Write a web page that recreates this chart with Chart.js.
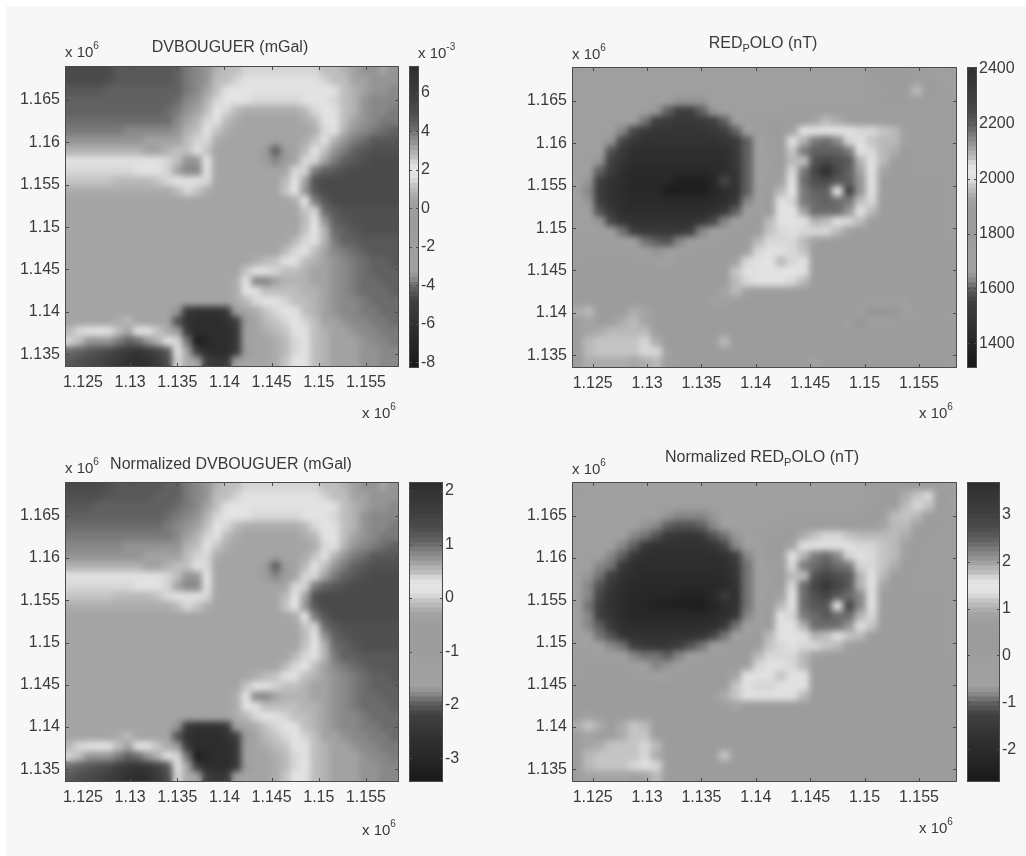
<!DOCTYPE html>
<html>
<head>
<meta charset="utf-8">
<title>DVBOUGUER / RED_POLO</title>
<script src="https://cdn.jsdelivr.net/npm/chart.js@4"></script>
<style>
  html, body { margin: 0; background: #fff; }
  #sheet { position: absolute; left: 6px; top: 6px; width: 1020px; height: 850px; background: #f7f7f7; }
  #page { position: absolute; left: 0; top: 0; width: 1026px; height: 856px; filter: blur(0.6px); }
  canvas { position: absolute; }
</style>
</head>
<body>
<div id="sheet"></div>
<div id="page"></div>
<script>
// cell centres, x 10^6
const gridX = [1.12362,1.12466,1.12570,1.12674,1.12778,1.12883,1.12987,1.13091,1.13195,1.13299,1.13403,1.13507,1.13612,1.13716,1.13820,1.13924,1.14028,1.14132,1.14236,1.14340,1.14445,1.14549,1.14653,1.14757,1.14861,1.14965,1.15069,1.15174,1.15278,1.15382,1.15486,1.15590,1.15694,1.15798];
const gridY = [1.16841,1.16722,1.16604,1.16486,1.16368,1.16249,1.16131,1.16013,1.15894,1.15776,1.15658,1.15539,1.15421,1.15303,1.15184,1.15066,1.14948,1.14829,1.14711,1.14593,1.14474,1.14356,1.14238,1.14120,1.14001,1.13883,1.13765,1.13646,1.13528,1.13409];

const xTicks = [1.125,1.13,1.135,1.14,1.145,1.15,1.155];
const yTicks = [1.135,1.14,1.145,1.15,1.155,1.16,1.165];
const xRange = [1.1231,1.1585];
const yRange = [1.1335,1.169];

// gray of the colour bar, bottom to top
const barGrays = [27,29,32,35,38,40,42,45,47,50,53,56,59,62,70,82,95,115,135,150,160,160,160,160,160,159,158,157,156,156,156,156,157,157,160,164,172,185,196,215,225,228,225,212,190,178,162,148,136,122,108,97,88,80,74,70,66,62,60,57,54,52,49,46];

const dvBarTicks = [-8,-6,-4,-2,0,2,4,6];
const redBarTicks = [1400,1600,1800,2000,2200,2400];
const dvNormBarTicks = [-3,-2,-1,0,1,2];
const redNormBarTicks = [-2,-1,0,1,2,3];

// DVBOUGUER, x 10^-3 mGal
const dvBouguer = [
[5.1,5.1,5.1,5.1,5.1,4.6,4.6,4.6,4.6,4.6,4.6,4.3,3.85,3.6,3.35,2.85,2.6,2.5,2.4,2.4,2.4,2.4,2.4,2.4,2.4,2.4,2.5,2.6,2.85,3.1,3.35,3.35,3.1,3.35],
[5.1,5.1,5.1,5.1,4.85,4.6,4.6,4.6,4.6,4.6,4.6,4.35,3.85,3.6,3.35,2.7,2.5,2.4,2.2,2.2,2.1,2.1,2.1,2.1,2.1,2.2,2.4,2.5,2.7,3,3.1,3.35,3.35,3.35],
[4.6,4.6,4.6,4.6,4.35,4.35,4.35,4.35,4.35,4.35,4.35,4.35,3.85,3.6,3.1,2.6,2.2,1.9,1.9,1.6,1.6,1.6,1.6,1.6,1.6,1.6,2,2.2,2.5,2.85,3.1,3.35,3.35,3.6],
[4.35,4.35,4.35,4.35,4.35,4.35,4.35,4.35,4.35,4.35,4.35,4.1,3.6,3.35,2.85,2.3,2,1.9,1.6,1.4,1.3,1.3,1.3,1.4,1.6,1.9,2.1,2.4,2.6,2.85,3.35,3.6,3.6,3.6],
[4.35,4.35,4.35,4.35,4.35,4.35,4.35,4.35,4.35,4.35,4.1,3.85,3.35,3.1,2.6,1.9,1.4,.9,.7,.65,.65,.65,.65,.7,.9,1.3,1.9,2.2,2.5,2.85,3.35,3.6,3.6,3.85],
[4.1,4.1,4.1,4.1,4.1,4.1,4.1,4.1,4.1,4.1,4.1,3.6,3.1,2.85,2.3,1.6,1,.65,.5,.5,.5,.5,.5,.5,.6,.9,1.6,2.1,2.6,3,3.35,3.6,3.85,3.85],
[3.85,3.85,3.85,3.85,3.85,3.85,3.6,3.6,3.6,3.6,3.6,3.35,2.85,2.6,1.9,1.15,.65,.4,.4,.4,.4,.4,.4,.4,.4,.65,1.4,2.2,2.85,3.35,3.6,3.85,4.1,4.35],
[3.35,3.35,3.35,3.35,3.35,3.35,3.35,3.35,3.1,3.1,3.1,3.1,2.6,2.3,1.4,.65,.4,.4,.4,.4,.4,.2,.4,.4,.65,1.15,2.1,2.85,3.35,3.85,4.1,4.6,4.6,4.6],
[2.85,2.85,2.85,2.85,2.85,2.85,2.85,2.85,3,3.1,2.85,2.6,2.5,2.1,1.2,.5,.4,.4,.4,.4,-1,-4.25,-1.3,.4,.9,1.9,2.6,3.35,3.85,4.35,4.6,4.85,4.85,4.85],
[2.2,2.2,2.2,2.2,2.1,2.1,2.1,2.1,2.2,2.2,2.4,2.6,3.35,3.35,1.9,.5,.4,.4,.4,.4,-.3,-3.8,-.3,.4,1.4,2.4,3.1,3.85,4.35,4.6,4.85,5.1,5.1,5.1],
[1.4,1.4,1.4,1.4,1.4,1.4,1.4,1.6,1.9,2.1,2.4,3.1,3.6,3.6,2.1,.5,.4,.4,.4,.4,.4,.4,.4,1.4,2.4,3.85,4.35,4.6,4.85,5.1,5.1,5.1,5.1,5.1],
[1.15,1.15,1.15,1.15,1.15,.9,.9,.9,1,1.15,1.4,1.9,2.2,2.2,1.4,.5,.4,.4,.4,.4,.4,.5,.9,1.9,3.1,4.85,5.1,5.1,5.1,5.1,5.1,5.1,5.1,5.1],
[.65,.65,.65,.65,.65,.65,.65,.6,.6,.6,.6,.9,1.4,1.15,.65,.4,.4,.4,.4,.4,.4,.5,1.15,1.9,3.35,4.6,5.1,5.1,5.1,5.1,5.1,5.1,5.1,5.1],
[.5,.5,.5,.5,.5,.5,.5,.4,.4,.4,.4,.4,.4,.4,.4,.4,.4,.4,.4,.4,.4,.4,.4,.65,1.9,3.85,4.6,5.1,5.1,5.1,5.1,5.1,5.1,5.1],
[.4,.4,.4,.4,.4,.4,.4,.4,.4,.4,.4,.4,.4,.4,.4,.4,.4,.4,.4,.4,.4,.4,.4,.4,1.15,2.4,4.1,4.6,4.85,4.85,4.85,4.85,4.85,4.85],
[.4,.4,.4,.4,.4,.4,.4,.4,.4,.4,.4,.4,.4,.4,.4,.4,.4,.4,.4,.4,.4,.4,.4,.4,.9,1.9,3.35,4.35,4.6,4.85,4.85,4.85,4.85,4.85],
[.4,.4,.4,.4,.4,.4,.4,.4,.4,.4,.4,.4,.4,.4,.4,.4,.4,.4,.4,.4,.4,.4,.4,.4,1.15,1.9,2.85,4.1,4.35,4.6,4.85,4.85,4.85,4.85],
[.4,.4,.4,.4,.4,.4,.4,.4,.4,.4,.4,.4,.4,.4,.4,.4,.4,.4,.4,.4,.4,.4,.4,.9,1.4,2.2,2.85,3.85,4.35,4.35,4.6,4.6,4.6,4.6],
[.4,.4,.4,.4,.4,.4,.4,.4,.4,.4,.4,.4,.4,.4,.4,.4,.4,.4,.4,.4,.4,.4,.9,1.4,2,2.6,3.1,3.6,3.85,4.1,4.35,4.6,4.6,4.6],
[.4,.4,.4,.4,.4,.4,.4,.4,.4,.4,.4,.4,.4,.4,.4,.4,.4,.4,.4,.65,.9,1.15,1.6,2.1,2.6,2.85,3.1,3.35,3.6,3.85,4.1,4.35,4.35,4.6],
[.4,.4,.4,.4,.4,.4,.4,.4,.4,.4,.4,.4,.4,.4,.4,.4,.4,.5,1.15,1.9,2.1,2.4,2.5,2.6,2.85,3,3.1,3.35,3.6,3.85,4.1,4.35,4.35,4.35],
[.4,.4,.4,.4,.4,.4,.4,.4,.4,.4,.4,.4,.4,.4,.4,.4,.4,.7,1.9,3.6,3.6,3.1,2.85,2.85,2.85,3,3.1,3.35,3.6,3.85,4.1,4.1,4.35,4.35],
[.4,.4,.4,.4,.4,.4,.4,.4,.4,.4,.4,.4,.4,.4,.4,.4,.4,.7,1.6,2.1,2.6,2.6,2.7,2.7,2.85,2.85,3.1,3.35,3.6,3.85,4.1,4.1,4.1,4.35],
[.4,.4,.4,.4,.4,.4,.4,.4,.4,.4,.4,.4,.4,.4,.4,.4,.5,.65,.9,1.4,1.9,2.1,2.4,2.6,2.7,2.85,3.1,3.35,3.6,3.6,3.85,4.1,4.1,4.1],
[.4,.4,.4,.4,.4,.4,.4,.4,.4,.4,.4,-3.5,-5.5,-6,-6,-6,-5.5,-3,.4,.65,1.15,1.5,1.9,2.2,2.5,2.85,3.1,3.35,3.6,3.6,3.85,3.85,4.1,4.1],
[.5,.5,.5,.5,.5,.65,1,.4,.4,.4,.4,-4.5,-6,-6.5,-6.5,-6.5,-6,-5,-1,.5,.9,1.2,1.4,1.9,2.4,2.7,3,3.1,3.35,3.6,3.6,3.85,3.85,4.1],
[1,1.4,1.6,1.9,2.2,2.6,3.1,2.2,1.6,1.15,.7,-.3,-5.5,-6.5,-6.5,-6.5,-6.5,-5.5,-2,.4,.65,.9,1.15,1.6,2.2,2.6,2.85,3,3.1,3.35,3.6,3.6,3.85,3.85],
[2.4,2.6,3.35,3.35,3.35,3.85,4.35,4.1,3.35,2.85,2.2,1.4,-4,-7.9,-7,-6.5,-6.5,-5.5,-2.5,.4,.5,.65,1,1.5,2.1,2.5,2.85,3,3.1,3.1,3.35,3.6,3.6,3.85],
[4.1,4.35,4.6,4.85,5.1,5.8,6.3,6.8,6.3,5.6,4.6,2.2,.4,-5,-6.5,-6.5,-6.5,-5.5,-1,.4,.5,.65,1,1.5,2,2.6,2.85,3,3.1,3.1,3.35,3.35,3.6,3.6],
[4.6,4.85,5.1,5.3,5.8,6.3,7,7.2,7,6,5.1,2.4,.6,.4,-5,-5.5,-5.5,-3,.4,.4,.5,.65,1.15,1.9,2.1,2.6,2.85,3,3.1,3.1,3.35,3.35,3.6,3.6]
];

// RED_POLO, nT
const redPolo = [
[1750,1750,1750,1750,1750,1750,1750,1750,1750,1750,1750,1750,1750,1750,1750,1750,1750,1750,1750,1750,1750,1750,1750,1750,1750,1750,1800,1800,1800,1780,1760,1750,1750,1750],
[1750,1750,1750,1750,1750,1750,1750,1750,1750,1750,1750,1750,1750,1750,1750,1750,1750,1750,1750,1750,1750,1750,1750,1750,1750,1750,1760,1800,1790,1850,1900,1800,1750,1750],
[1750,1750,1750,1750,1750,1750,1750,1750,1750,1750,1750,1750,1750,1750,1750,1750,1750,1750,1750,1750,1750,1750,1750,1750,1750,1750,1760,1770,1780,1850,1953,1850,1760,1750],
[1750,1750,1750,1750,1750,1750,1750,1750,1680,1640,1640,1640,1680,1750,1750,1750,1750,1750,1750,1750,1750,1750,1750,1750,1750,1750,1760,1780,1780,1780,1780,1780,1760,1750],
[1750,1750,1750,1750,1750,1750,1680,1640,1600,1540,1540,1600,1640,1700,1750,1750,1750,1750,1750,1770,1770,1770,1770,1770,1770,1770,1770,1770,1770,1770,1770,1770,1770,1770],
[1750,1750,1750,1750,1750,1660,1610,1540,1520,1510,1510,1520,1540,1600,1660,1750,1780,1780,1780,1780,1850,1920,1950,1930,1900,1880,1860,1840,1800,1780,1760,1760,1760,1760],
[1750,1750,1750,1700,1620,1560,1510,1490,1490,1490,1490,1490,1510,1540,1600,1680,1750,1780,1800,1900,2000,2030,2040,2020,2000,1990,1980,1970,1950,1900,1780,1760,1760,1760],
[1750,1750,1750,1640,1560,1500,1470,1470,1470,1470,1470,1470,1470,1490,1530,1600,1700,1770,1800,2000,2090,2160,2180,2140,2060,2000,1970,1960,1950,1900,1780,1770,1770,1770],
[1750,1750,1680,1580,1500,1460,1460,1460,1460,1460,1460,1460,1460,1460,1510,1590,1670,1760,1800,1970,2150,2190,2200,2190,2150,2040,1980,1960,1930,1850,1770,1770,1770,1770],
[1740,1740,1640,1540,1490,1430,1430,1430,1430,1430,1430,1430,1430,1440,1500,1590,1660,1750,1830,1950,2070,2220,2260,2230,2210,2090,2000,1950,1880,1800,1770,1770,1770,1770],
[1750,1690,1600,1520,1460,1420,1420,1420,1420,1400,1400,1400,1420,1440,1490,1590,1660,1750,1850,1980,2160,2260,2390,2250,2200,2100,2000,1920,1850,1780,1770,1770,1770,1770],
[1720,1640,1540,1480,1440,1400,1400,1400,1400,1360,1360,1360,1400,1560,1470,1590,1680,1770,1900,2010,2170,2220,2250,2210,2190,2130,2000,1880,1800,1780,1780,1780,1780,1780],
[1720,1630,1530,1470,1430,1400,1400,1400,1340,1340,1340,1330,1380,1430,1480,1600,1700,1780,1950,2020,2160,2190,2200,2022,2270,2130,2000,1880,1800,1780,1780,1780,1780,1780],
[1720,1640,1540,1480,1440,1420,1420,1420,1420,1420,1420,1420,1420,1460,1510,1620,1720,1800,2000,2060,2150,2180,2190,2180,2160,2080,1990,1860,1790,1780,1780,1780,1780,1780],
[1740,1670,1580,1500,1450,1440,1440,1440,1440,1440,1440,1440,1470,1510,1590,1680,1760,1850,2000,2020,2100,2170,2180,2170,2120,2020,1960,1830,1780,1780,1780,1780,1780,1780],
[1750,1720,1640,1560,1490,1470,1470,1470,1470,1470,1470,1500,1560,1630,1710,1770,1820,1950,2010,2000,2030,2090,2080,2040,1990,1960,1880,1800,1780,1780,1780,1780,1780,1780],
[1750,1750,1720,1680,1610,1540,1500,1500,1500,1500,1540,1620,1690,1750,1780,1800,1880,1970,1990,2000,1990,1990,1980,1960,1900,1840,1800,1780,1780,1780,1780,1780,1780,1780],
[1760,1760,1760,1760,1720,1670,1610,1590,1580,1620,1700,1760,1770,1780,1790,1840,1950,1980,1990,1990,1960,1900,1850,1810,1780,1780,1780,1780,1780,1780,1780,1780,1780,1780],
[1770,1770,1770,1770,1770,1770,1700,1640,1680,1750,1770,1780,1790,1790,1800,1900,1980,2000,2000,1990,1970,1850,1790,1790,1790,1790,1790,1790,1790,1790,1790,1790,1790,1790],
[1780,1780,1780,1780,1780,1780,1780,1690,1680,1790,1790,1790,1790,1790,1900,1990,2010,2020,1950,1990,2000,1880,1800,1800,1800,1800,1800,1800,1800,1800,1800,1800,1800,1800],
[1790,1790,1790,1790,1790,1790,1790,1790,1790,1790,1790,1790,1790,1850,1970,2010,2030,2030,2020,2020,2000,1860,1800,1800,1800,1800,1800,1800,1800,1800,1800,1800,1800,1800],
[1800,1800,1800,1800,1800,1800,1800,1800,1800,1800,1800,1800,1820,1880,1960,1990,2010,2000,2010,1990,1950,1810,1800,1800,1800,1800,1800,1800,1800,1800,1800,1800,1800,1800],
[1810,1810,1810,1810,1810,1810,1810,1810,1810,1810,1810,1810,1860,1920,1950,1900,1860,1830,1780,1800,1800,1800,1800,1800,1800,1800,1800,1800,1800,1800,1800,1800,1800,1800],
[1830,1830,1830,1830,1820,1820,1820,1820,1820,1820,1820,1820,1900,1900,1880,1820,1790,1790,1790,1790,1790,1790,1790,1790,1790,1790,1700,1700,1700,1700,1790,1790,1790,1790],
[1930,1960,1890,1830,1870,1930,1910,1840,1790,1790,1790,1790,1790,1790,1790,1790,1790,1790,1790,1790,1790,1790,1790,1790,1790,1680,1640,1640,1650,1700,1780,1780,1780,1780],
[1880,1910,1870,1870,1930,1950,1920,1830,1790,1790,1790,1790,1790,1790,1790,1790,1790,1790,1790,1790,1790,1790,1790,1790,1700,1650,1660,1720,1780,1780,1780,1780,1780,1780],
[1880,1910,1930,1950,1950,1950,1960,1880,1800,1790,1790,1790,1790,1790,1790,1790,1790,1790,1790,1790,1790,1790,1790,1790,1790,1790,1790,1790,1790,1790,1790,1790,1790,1790],
[1870,1960,1970,1970,1970,1970,1990,1930,1850,1790,1790,1790,1790,1960,1800,1790,1790,1790,1790,1790,1790,1790,1790,1790,1790,1790,1790,1790,1790,1790,1790,1790,1790,1790],
[1880,1960,1970,1970,1970,1970,1990,1980,1900,1800,1790,1790,1790,1790,1790,1790,1790,1790,1790,1790,1790,1790,1790,1790,1790,1790,1790,1790,1790,1790,1790,1790,1790,1790],
[1880,1930,1930,1930,1930,1910,1930,1950,1880,1800,1790,1790,1790,1790,1790,1790,1790,1790,1790,1790,1790,1700,1790,1790,1790,1790,1790,1790,1790,1790,1790,1790,1790,1790]
];

// Normalized DVBOUGUER
const dvNorm = [
[1.35,1.35,1.35,1.35,1.26,1.17,1.17,1.17,1.17,1.17,1.08,1.06,.9,.81,.72,.54,.45,.42,.38,.38,.38,.38,.38,.38,.38,.38,.42,.45,.54,.63,.72,.72,.63,.72],
[1.26,1.26,1.26,1.26,1.17,1.17,1.17,1.17,1.17,1.08,1.08,1.08,.9,.81,.72,.49,.42,.38,.31,.31,.28,.28,.28,.28,.28,.31,.38,.42,.49,.6,.63,.72,.72,.72],
[1.17,1.17,1.17,1.08,1.08,1.08,1.08,1.08,1.08,1.08,1.08,.99,.9,.81,.63,.45,.31,.2,.2,.1,.1,.1,.1,.1,.1,.1,.24,.31,.42,.54,.63,.72,.72,.81],
[1.08,1.08,1.08,1.08,1.08,1.08,1.08,1.08,1.08,1.08,.99,.9,.81,.72,.54,.35,.24,.2,.1,.03,0,0,0,.03,.1,.2,.28,.38,.45,.54,.72,.81,.81,.81],
[.99,.99,.99,.99,.99,.99,.99,.99,.99,.99,.9,.81,.72,.63,.45,.2,.03,-.15,-.22,-.24,-.24,-.24,-.24,-.22,-.15,0,.2,.31,.42,.54,.72,.81,.81,.9],
[.9,.9,.9,.9,.9,.9,.9,.9,.9,.9,.9,.81,.63,.54,.35,.1,-.12,-.24,-.3,-.3,-.3,-.3,-.3,-.3,-.26,-.15,.1,.28,.45,.6,.72,.81,.9,.9],
[.81,.81,.81,.81,.81,.81,.72,.72,.72,.72,.72,.72,.54,.45,.2,-.06,-.24,-.33,-.33,-.33,-.33,-.33,-.33,-.33,-.33,-.24,.03,.31,.54,.72,.81,.9,.99,1.08],
[.72,.72,.72,.72,.72,.72,.72,.72,.63,.63,.63,.63,.45,.35,.03,-.24,-.33,-.33,-.33,-.33,-.33,-.4,-.33,-.33,-.24,-.06,.28,.54,.72,.9,.99,1.17,1.17,1.17],
[.54,.54,.54,.54,.54,.54,.54,.54,.6,.63,.54,.45,.42,.28,0,-.3,-.33,-.33,-.33,-.33,-.83,-2,-.95,-.33,-.15,.2,.45,.72,.9,1.08,1.17,1.26,1.26,1.26],
[.31,.31,.31,.31,.28,.28,.28,.28,.31,.31,.38,.45,.72,.72,.2,-.3,-.33,-.33,-.33,-.33,-.58,-1.83,-.58,-.33,.03,.38,.63,.9,1.08,1.17,1.26,1.35,1.35,1.35],
[.03,.03,.03,.03,.03,.03,.03,.1,.2,.28,.38,.63,.81,.81,.28,-.3,-.33,-.33,-.33,-.33,-.33,-.33,-.33,.03,.38,.9,1.08,1.17,1.26,1.35,1.35,1.35,1.35,1.35],
[-.06,-.06,-.06,-.06,-.06,-.15,-.15,-.15,-.12,-.06,.03,.2,.31,.31,.03,-.3,-.33,-.33,-.33,-.33,-.33,-.3,-.15,.2,.63,1.26,1.35,1.35,1.35,1.35,1.35,1.35,1.35,1.35],
[-.24,-.24,-.24,-.24,-.24,-.24,-.24,-.26,-.26,-.26,-.26,-.15,.03,-.06,-.24,-.33,-.33,-.33,-.33,-.33,-.33,-.3,-.06,.2,.72,1.17,1.35,1.35,1.35,1.35,1.35,1.35,1.35,1.35],
[-.3,-.3,-.3,-.3,-.3,-.3,-.3,-.33,-.33,-.33,-.33,-.33,-.33,-.33,-.33,-.33,-.33,-.33,-.33,-.33,-.33,-.33,-.33,-.24,.2,.9,1.17,1.35,1.35,1.35,1.35,1.35,1.35,1.35],
[-.33,-.33,-.33,-.33,-.33,-.33,-.33,-.33,-.33,-.33,-.33,-.33,-.33,-.33,-.33,-.33,-.33,-.33,-.33,-.33,-.33,-.33,-.33,-.33,-.06,.38,.99,1.17,1.26,1.26,1.26,1.26,1.26,1.26],
[-.33,-.33,-.33,-.33,-.33,-.33,-.33,-.33,-.33,-.33,-.33,-.33,-.33,-.33,-.33,-.33,-.33,-.33,-.33,-.33,-.33,-.33,-.33,-.33,-.15,.2,.72,1.08,1.17,1.26,1.26,1.26,1.26,1.26],
[-.33,-.33,-.33,-.33,-.33,-.33,-.33,-.33,-.33,-.33,-.33,-.33,-.33,-.33,-.33,-.33,-.33,-.33,-.33,-.33,-.33,-.33,-.33,-.33,-.06,.2,.54,.99,1.08,1.17,1.26,1.26,1.26,1.26],
[-.33,-.33,-.33,-.33,-.33,-.33,-.33,-.33,-.33,-.33,-.33,-.33,-.33,-.33,-.33,-.33,-.33,-.33,-.33,-.33,-.33,-.33,-.33,-.15,.03,.31,.54,.9,1.08,1.08,1.17,1.17,1.17,1.17],
[-.33,-.33,-.33,-.33,-.33,-.33,-.33,-.33,-.33,-.33,-.33,-.33,-.33,-.33,-.33,-.33,-.33,-.33,-.33,-.33,-.33,-.33,-.15,.03,.24,.45,.63,.81,.9,.99,1.08,1.17,1.17,1.17],
[-.33,-.33,-.33,-.33,-.33,-.33,-.33,-.33,-.33,-.33,-.33,-.33,-.33,-.33,-.33,-.33,-.33,-.33,-.33,-.24,-.15,-.06,.1,.28,.45,.54,.63,.72,.81,.9,.99,1.08,1.08,1.17],
[-.33,-.33,-.33,-.33,-.33,-.33,-.33,-.33,-.33,-.33,-.33,-.33,-.33,-.33,-.33,-.33,-.33,-.3,-.06,.2,.28,.38,.42,.45,.54,.6,.63,.72,.81,.9,.99,1.08,1.08,1.08],
[-.33,-.33,-.33,-.33,-.33,-.33,-.33,-.33,-.33,-.33,-.33,-.33,-.33,-.33,-.33,-.33,-.33,-.22,.2,.81,.81,.63,.54,.54,.54,.6,.63,.72,.81,.9,.99,.99,1.08,1.08],
[-.33,-.33,-.33,-.33,-.33,-.33,-.33,-.33,-.33,-.33,-.33,-.33,-.33,-.33,-.33,-.33,-.33,-.22,.1,.28,.45,.45,.49,.49,.54,.54,.63,.72,.81,.9,.99,.99,.99,1.08],
[-.33,-.33,-.33,-.33,-.33,-.33,-.33,-.33,-.33,-.33,-.33,-.33,-.33,-.33,-.33,-.33,-.3,-.24,-.15,.03,.2,.28,.38,.45,.49,.54,.63,.72,.81,.81,.9,.99,.99,.99],
[-.33,-.33,-.33,-.33,-.33,-.33,-.33,-.33,-.33,-.33,-.33,-1.73,-2.44,-2.62,-2.62,-2.62,-2.44,-1.55,-.33,-.24,-.06,.06,.2,.31,.42,.54,.63,.72,.81,.81,.9,.9,.99,.99],
[-.3,-.3,-.3,-.3,-.3,-.24,-.12,-.33,-.33,-.33,-.33,-2.08,-2.62,-2.8,-2.8,-2.8,-2.62,-2.26,-.83,-.3,-.15,-.05,.03,.2,.38,.49,.6,.63,.72,.81,.81,.9,.9,.99],
[-.12,.03,.1,.2,.31,.45,.63,.31,.1,-.06,-.22,-.58,-2.44,-2.8,-2.8,-2.8,-2.8,-2.44,-1.2,-.33,-.24,-.15,-.06,.1,.31,.45,.54,.6,.63,.72,.81,.81,.9,.9],
[.38,.45,.72,.72,.72,.9,1.08,.99,.72,.54,.31,.03,-1.9,-3.3,-2.98,-2.8,-2.8,-2.44,-1.37,-.33,-.3,-.24,-.12,.06,.28,.42,.54,.6,.63,.63,.72,.81,.81,.9],
[.99,1.08,1.17,1.26,1.35,1.6,1.77,1.95,1.77,1.5,1.17,.31,-.33,-2.26,-2.8,-2.8,-2.8,-2.44,-.83,-.33,-.3,-.24,-.12,.06,.24,.45,.54,.6,.63,.63,.72,.72,.81,.81],
[1.17,1.26,1.35,1.4,1.6,1.77,2.03,2.1,2.03,1.67,1.35,.38,-.26,-.33,-2.26,-2.44,-2.44,-1.55,-.33,-.33,-.3,-.24,-.06,.2,.28,.45,.54,.6,.63,.63,.72,.72,.81,.81]
];

// Normalized RED_POLO
const redNorm = [
[-.2,-.2,-.2,-.2,-.2,-.2,-.2,-.2,-.2,-.2,-.2,-.2,-.2,-.2,-.2,-.2,-.2,-.2,-.2,-.2,-.2,-.2,-.2,-.2,-.2,-.2,0,.1,.1,.1,.2,.1,-.1,-.2],
[-.2,-.2,-.2,-.2,-.2,-.2,-.2,-.2,-.2,-.2,-.2,-.2,-.2,-.2,-.2,-.2,-.2,-.2,-.2,-.2,-.2,-.2,-.2,-.2,-.2,-.2,-.1,.1,.3,.9,1.1,1.2,.3,-.2],
[-.2,-.2,-.2,-.2,-.2,-.2,-.2,-.2,-.2,-.2,-.2,-.2,-.2,-.2,-.2,-.2,-.2,-.2,-.2,-.2,-.2,-.2,-.2,-.2,-.2,-.2,-.1,.1,.6,1,1.2,1.1,.2,-.2],
[-.2,-.2,-.2,-.2,-.2,-.2,-.3,-.6,-.8,-.9,-.9,-.9,-.8,-.5,-.2,-.2,-.2,-.2,-.2,-.2,-.2,-.2,-.2,-.2,-.2,-.1,.1,.5,1,1.1,1,.5,0,-.2],
[-.2,-.2,-.2,-.2,-.3,-.6,-.8,-.9,-1.1,-1.2,-1.2,-1.1,-.9,-.7,-.4,-.2,-.2,-.2,-.1,0,.1,.2,.3,.3,.3,.3,.4,.8,1,1,.7,.2,0,-.1],
[-.2,-.2,-.2,-.4,-.7,-.9,-1,-1.2,-1.6,-1.7,-1.7,-1.6,-1.2,-1,-.8,-.4,-.1,0,0,.3,.9,1.1,1.2,1.2,1.1,1,1,1,1,.9,.4,0,-.1,-.1],
[-.2,-.2,-.3,-.7,-.9,-1.1,-1.6,-1.8,-1.8,-1.8,-1.8,-1.8,-1.7,-1.3,-.9,-.7,-.3,0,.2,.8,1.3,1.4,1.5,1.4,1.3,1.2,1.2,1.1,1,.7,.2,-.1,-.1,-.1],
[-.2,-.2,-.7,-.9,-1.1,-1.6,-1.9,-1.9,-1.9,-1.9,-1.9,-1.9,-1.9,-1.8,-1.4,-.9,-.5,0,.3,1.3,1.8,2.2,2.3,2.1,1.6,1.3,1.2,1.1,1,.7,.1,-.1,-.1,-.1],
[-.3,-.6,-.9,-1,-1.6,-1.9,-2,-2,-2,-2,-2,-2,-2,-1.9,-1.6,-1,-.6,-.1,.2,1.2,2.2,2.4,2.5,2.4,2.2,1.6,1.2,1.1,.9,.4,0,-.1,-.1,-.1],
[-.4,-.8,-1,-1.4,-1.8,-2,-2.1,-2.1,-2.1,-2.1,-2.1,-2.1,-2.1,-2,-1.7,-1,-.6,-.2,.3,1,1.7,2.6,2.8,2.6,2.5,1.9,1.3,1,.6,.1,-.1,-.1,-.1,-.1],
[-.5,-.9,-1.2,-1.6,-1.9,-2.1,-2.2,-2.2,-2.2,-2.2,-2.2,-2.2,-2.2,-2.1,-1.8,-1,-.6,-.2,.4,1.2,2.3,2.8,3.4,2.8,2.5,1.9,1.3,.8,.4,0,-.1,-.1,-.1,-.1],
[-.6,-.9,-1.3,-1.8,-2,-2.2,-2.2,-2.3,-2.3,-2.4,-2.4,-2.4,-2.2,-1.5,-1.9,-1,-.6,-.1,.7,1.3,2.3,2.6,2.8,2.5,2.4,2.1,1.3,.6,.2,.4,.1,0,0,0],
[-.6,-1,-1.4,-1.8,-2,-2.2,-2.3,-2.4,-2.5,-2.5,-2.5,-2.6,-2.3,-2,-1.8,-1,-.5,0,1,1.4,2.3,2.5,2.5,1.5,2.8,2.1,1.3,.6,.3,0,0,0,0,0],
[-.6,-.9,-1.4,-1.7,-2,-2.2,-2.2,-2.2,-2.2,-2.2,-2.2,-2.2,-2.1,-1.9,-1.6,-.9,-.4,.1,1.3,1.6,2.2,2.4,2.5,2.4,2.3,1.8,1.2,.5,.1,0,0,0,0,0],
[-.5,-.9,-1.1,-1.6,-1.9,-2,-2,-2,-2,-2,-2,-2,-1.9,-1.6,-1,-.6,-.2,.3,1.3,1.5,1.9,2.3,2.4,2.3,2,1.5,1.1,.3,0,0,0,0,0,0],
[-.4,-.7,-1,-1.2,-1.7,-1.8,-1.8,-1.8,-1.8,-1.8,-1.8,-1.7,-1.3,-1,-.5,-.1,.2,1,1.3,1.3,1.4,1.8,1.7,1.4,1.1,1,.5,.1,0,0,0,0,0,0],
[-.2,-.3,-.6,-.9,-1,-1.4,-1.6,-1.7,-1.6,-1.4,-1.2,-1,-.6,-.2,0,.2,.6,1.1,1.2,1.3,1.2,1.2,1.1,1,.7,.4,.1,0,0,0,0,0,0,0],
[-.1,-.1,-.2,-.5,-.7,-.9,-1,-1,-1.1,-.9,-.5,-.1,0,0,.1,.4,1,1.2,1.2,1.2,1,.7,.4,.1,0,0,0,0,0,0,0,0,0,0],
[0,0,0,0,0,-.2,-.6,-.9,-.8,-.2,0,0,.1,.1,.2,.7,1.2,1.4,1.3,1.2,1,.4,.1,.1,.1,.1,.1,.1,.1,.1,.1,.1,.1,.1],
[0,0,0,0,0,0,0,-.5,-.7,.1,.1,.1,.1,.1,.8,1.3,1.4,1.4,1.1,1.3,1.3,.6,.1,.1,.1,.1,.1,.1,.1,.1,.1,.1,.1,.1],
[.1,.1,.1,.1,.1,.1,.1,.1,.1,.1,.1,.1,.1,.4,1.1,1.4,1.6,1.6,1.5,1.5,1.3,.5,.1,.1,.1,.1,.1,.1,.1,.1,.1,.1,.1,.1],
[.1,.1,.1,.1,.1,.1,.1,.1,.1,.1,.2,.3,.5,.9,1.1,1.3,1.4,1.3,1.4,1.3,1,.2,.1,.1,.1,.1,.1,.1,.1,.1,.1,.1,.1,.1],
[.2,.2,.2,.2,.2,.2,.2,.2,.2,.2,.3,.4,.5,.6,.8,.6,.3,.2,.1,.1,.1,.1,.1,.1,.1,.1,.1,.1,.1,.1,.1,.1,.1,.1],
[.4,.7,.6,.4,.4,.5,.5,.4,.2,.3,.4,.5,.4,.2,.2,.1,.1,.1,.1,.1,.1,.1,.1,.1,.1,.1,.1,.1,.1,.1,.1,.1,.1,.1],
[.9,1.1,.9,.4,.9,1.1,1,.4,.2,.3,.5,.5,.3,.1,.1,.1,.1,.1,.1,.1,.1,.1,.1,.1,.1,.1,.1,.1,.1,.1,.1,.1,.1,.1],
[.6,.8,.6,.6,.9,1.1,1.1,.6,.2,.2,.4,.4,.2,.1,.1,.1,.1,.1,.1,.1,.1,.1,.1,.1,.1,.1,.1,.1,.1,.1,.1,.1,.1,.1],
[.6,.8,.9,1.1,1.1,1.1,1.2,1,.3,.2,.2,.3,.3,.2,.1,.1,.1,.1,.1,.1,.1,.1,.1,.1,.1,.1,.1,.1,.1,.1,.1,.1,.1,.1],
[.5,1,1.1,1.1,1.1,1.1,1.2,.9,.4,.1,.1,.2,.2,1.1,.2,.1,.1,.1,.1,.1,.1,.1,.1,.1,.1,.1,.1,.1,.1,.1,.1,.1,.1,.1],
[.6,1,1.1,1.1,1.1,1.2,1.3,1.2,.6,.2,.1,.1,.1,.1,.1,.1,.1,.1,.1,.1,.1,.1,.1,.1,.1,.1,.1,.1,.1,.1,.1,.1,.1,.1],
[.6,.8,.8,.8,.8,.7,.8,1,.6,.2,.1,.1,.1,.1,.1,.1,.1,.1,.1,.1,.1,.1,.1,.1,.1,.1,.1,.1,.1,.1,.1,.1,.1,.1]
];

const textColor = '#3a3a3a';
const fontName = '"Liberation Sans"';

function grayOf(v, range) {
    let k = Math.floor((v - range[0]) / (range[1] - range[0]) * barGrays.length);
    k = Math.max(0, Math.min(barGrays.length - 1, k));
    const g = barGrays[k];
    return 'rgb(' + g + ',' + g + ',' + g + ')';
}

function addCanvas(left, top, width, height) {
    const c = document.createElement('canvas');
    c.width = width;
    c.height = height;
    c.style.left = left + 'px';
    c.style.top = top + 'px';
    c.style.width = width + 'px';
    c.style.height = height + 'px';
    document.getElementById('page').appendChild(c);
    return c;
}

// text runs: [string, dy, size]
function drawRuns(ctx, x, y, runs, center) {
    ctx.save();
    ctx.fillStyle = textColor;
    ctx.textAlign = 'left';
    ctx.textBaseline = 'alphabetic';
    let total = 0;
    runs.forEach(r => {
        ctx.font = r[2] + 'px ' + fontName;
        total += ctx.measureText(r[0]).width;
    });
    let cx = center ? x - total / 2 : x;
    runs.forEach(r => {
        ctx.font = r[2] + 'px ' + fontName;
        ctx.fillText(r[0], cx, y + r[1]);
        cx += ctx.measureText(r[0]).width;
    });
    ctx.restore();
}

// box and inward ticks, matlab style
const boxPlugin = {
    id: 'boxPlugin',
    afterDraw(chart, args, opts) {
        const ctx = chart.ctx;
        const a = chart.chartArea;
        const len = opts.tickLen;
        ctx.save();
        ctx.strokeStyle = '#4a4a4a';
        ctx.lineWidth = 1;
        ctx.beginPath();
        ctx.rect(a.left + 0.5, a.top + 0.5, a.right - a.left - 1, a.bottom - a.top - 1);
        const sy = chart.scales.y;
        sy.ticks.forEach(t => {
            const py = Math.round(sy.getPixelForValue(t.value)) + 0.5;
            ctx.moveTo(a.left, py);
            ctx.lineTo(a.left + len, py);
            ctx.moveTo(a.right, py);
            ctx.lineTo(a.right - len, py);
        });
        const sx = chart.scales.x;
        if (sx.type === 'linear') {
            sx.ticks.forEach(t => {
                const px = Math.round(sx.getPixelForValue(t.value)) + 0.5;
                ctx.moveTo(px, a.top);
                ctx.lineTo(px, a.top + len);
                ctx.moveTo(px, a.bottom);
                ctx.lineTo(px, a.bottom - len);
            });
        }
        ctx.stroke();
        ctx.restore();
        (opts.texts || []).forEach(t => drawRuns(ctx, t.x - opts.ox, t.y - opts.oy, t.runs, t.center));
    }
};

// smooth the drawn cells, the reference is a soft scan
const softenPlugin = {
    id: 'softenPlugin',
    afterDatasetsDraw(chart) {
        const ctx = chart.ctx;
        const a = chart.chartArea;
        const snap = document.createElement('canvas');
        snap.width = chart.canvas.width;
        snap.height = chart.canvas.height;
        snap.getContext('2d').drawImage(chart.canvas, 0, 0);
        ctx.save();
        ctx.beginPath();
        ctx.rect(a.left, a.top, a.right - a.left, a.bottom - a.top);
        ctx.clip();
        ctx.filter = 'blur(3px)';
        ctx.drawImage(snap, 0, 0);
        ctx.restore();
    }
};

function exponent(x, y, power) {
    return { x: x, y: y, runs: [['x 10', 0, 15], [power, -8, 10]] };
}

function heatChart(p) {
    const left = p.box[0] - p.ox;
    const top = p.box[1] - p.oy;
    const points = [];
    const colors = [];
    p.grid.forEach((row, j) => {
        row.forEach((v, i) => {
            points.push({ x: gridX[i], y: gridY[j] });
            colors.push(grayOf(v, p.range));
        });
    });
    new Chart(addCanvas(p.ox, p.oy, p.w, p.h), {
        type: 'scatter',
        data: {
            datasets: [{
                data: points,
                pointStyle: 'rect',
                pointBackgroundColor: colors,
                pointBorderWidth: 0,
                pointRadius: ctx => {
                    const a = ctx.chart.chartArea;
                    if (!a) return 1;
                    const half = Math.max((a.right - a.left) / gridX.length, (a.bottom - a.top) / gridY.length) / 2 + 0.6;
                    return half * Math.SQRT2;
                }
            }]
        },
        options: {
            responsive: false,
            animation: false,
            events: [],
            layout: { padding: { left: 0, top: top, right: p.w - (p.box[2] - p.ox), bottom: 0 } },
            plugins: {
                legend: { display: false },
                tooltip: { enabled: false },
                boxPlugin: { tickLen: 4, texts: p.texts, ox: p.ox, oy: p.oy }
            },
            scales: {
                x: {
                    type: 'linear',
                    min: xRange[0],
                    max: xRange[1],
                    grid: { display: false, drawTicks: false },
                    border: { display: false },
                    afterBuildTicks: s => { s.ticks = xTicks.map(v => ({ value: v })); },
                    afterFit: s => { s.height = p.h - (p.box[3] - p.oy); },
                    ticks: {
                        autoSkip: false,
                        maxRotation: 0,
                        padding: 6,
                        color: textColor,
                        font: { family: fontName, size: 16 },
                        callback: v => String(v)
                    }
                },
                y: {
                    type: 'linear',
                    min: yRange[0],
                    max: yRange[1],
                    grid: { display: false, drawTicks: false },
                    border: { display: false },
                    afterBuildTicks: s => { s.ticks = yTicks.map(v => ({ value: v })); },
                    afterFit: s => { s.width = left; },
                    ticks: {
                        autoSkip: false,
                        padding: 5,
                        color: textColor,
                        font: { family: fontName, size: 16 },
                        callback: v => String(v)
                    }
                }
            }
        },
        plugins: [softenPlugin, boxPlugin]
    });
}

function barChart(p) {
    const n = barGrays.length;
    const span = p.range[1] - p.range[0];
    const datasets = barGrays.map((g, k) => ({
        data: [[p.range[0] + span * k / n, p.range[0] + span * (k + 1.15) / n]],
        backgroundColor: 'rgb(' + g + ',' + g + ',' + g + ')',
        barPercentage: 1,
        categoryPercentage: 1,
        grouped: false
    }));
    new Chart(addCanvas(p.ox, p.oy, p.w, p.h), {
        type: 'bar',
        data: { labels: [''], datasets: datasets },
        options: {
            responsive: false,
            animation: false,
            events: [],
            layout: { padding: { left: p.box[0] - p.ox, top: p.box[1] - p.oy, right: 0, bottom: p.oy + p.h - p.box[3] } },
            plugins: {
                legend: { display: false },
                tooltip: { enabled: false },
                boxPlugin: { tickLen: 3, texts: p.texts || [], ox: p.ox, oy: p.oy }
            },
            scales: {
                x: { display: false },
                y: {
                    type: 'linear',
                    position: 'right',
                    min: p.range[0],
                    max: p.range[1],
                    grid: { display: false, drawTicks: false },
                    border: { display: false },
                    afterBuildTicks: s => { s.ticks = p.ticks.map(v => ({ value: v })); },
                    afterFit: s => { s.width = p.w - (p.box[2] - p.ox); },
                    ticks: {
                        autoSkip: false,
                        padding: 2,
                        color: textColor,
                        font: { family: fontName, size: 16 },
                        callback: v => String(v)
                    }
                }
            }
        },
        plugins: [boxPlugin]
    });
}

const dvRange = [-8.3, 7.4];
const redRange = [1310, 2407];
const dvNormRange = [-3.44, 2.17];
const redNormRange = [-2.7, 3.7];

heatChart({
    grid: dvBouguer, range: dvRange, ox: 0, oy: 0, w: 408, h: 428, box: [65, 66, 399, 367],
    texts: [
        { x: 230, y: 52, center: true, runs: [['DVBOUGUER (mGal)', 0, 16]] },
        exponent(65, 57, '6'),
        exponent(362, 418, '6')
    ]
});
heatChart({
    grid: redPolo, range: redRange, ox: 510, oy: 0, w: 452, h: 428, box: [572, 67, 957, 368],
    texts: [
        { x: 763, y: 48, center: true, runs: [['RED', 0, 16], ['P', 4, 11], ['OLO (nT)', 0, 16]] },
        exponent(572, 59, '6'),
        exponent(919, 418, '6')
    ]
});
heatChart({
    grid: dvNorm, range: dvNormRange, ox: 0, oy: 428, w: 408, h: 428, box: [65, 482, 399, 782],
    texts: [
        { x: 231, y: 469, center: true, runs: [['Normalized DVBOUGUER (mGal)', 0, 16]] },
        exponent(65, 473, '6'),
        exponent(362, 835, '6')
    ]
});
heatChart({
    grid: redNorm, range: redNormRange, ox: 510, oy: 428, w: 452, h: 428, box: [572, 482, 957, 782],
    texts: [
        { x: 762, y: 462, center: true, runs: [['Normalized RED', 0, 16], ['P', 4, 11], ['OLO (nT)', 0, 16]] },
        exponent(572, 474, '6'),
        exponent(919, 833, '6')
    ]
});

barChart({
    range: dvRange, ticks: dvBarTicks, ox: 406, oy: 30, w: 60, h: 350, box: [409, 66, 419, 368],
    texts: [exponent(418, 58, '-3')]
});
barChart({ range: redRange, ticks: redBarTicks, ox: 964, oy: 30, w: 60, h: 350, box: [967, 67, 977, 368] });
barChart({ range: dvNormRange, ticks: dvNormBarTicks, ox: 406, oy: 460, w: 60, h: 340, box: [409, 482, 443, 782] });
barChart({ range: redNormRange, ticks: redNormBarTicks, ox: 964, oy: 460, w: 60, h: 340, box: [967, 482, 1000, 782] });
</script>
</body>
</html>
